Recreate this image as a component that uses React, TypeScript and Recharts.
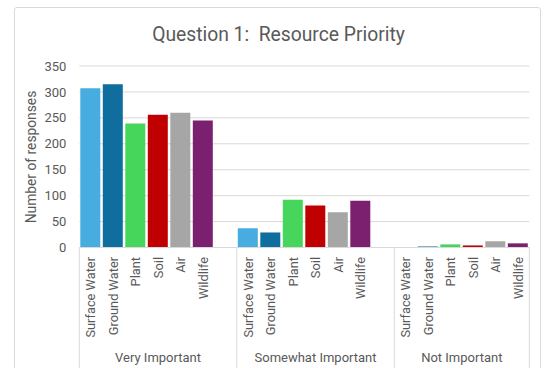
import React from "react";
import { BarChart, Bar, XAxis, YAxis, CartesianGrid, Cell } from "recharts";

// Resource categories, repeated inside each importance group
const categories = ["Surface Water", "Ground Water", "Plant", "Soil", "Air", "Wildlife"];
const groups = ["Very Important", "Somewhat Important", "Not Important"];

// Number of responses per category, one list per group
const veryImportant = [307, 315, 239, 256, 260, 245];
const somewhatImportant = [37, 29, 92, 81, 68, 90];
const notImportant = [0, 2, 6, 4, 12, 8];

const categoryColors = ["#47ADE0", "#0F6E9E", "#45D65B", "#C00000", "#A6A6A6", "#7B1F6F"];
const yTicks = [0, 50, 100, 150, 200, 250, 300, 350];

const CHART_W = 545;
const CHART_H = 368;
const MARGIN = { top: 66, right: 15.7, bottom: 0, left: 14 };
const Y_AXIS_W = 65.3;
const PLOT_BOTTOM = 247.5;
const TEXT = "#595959";
const LINE = "#D9D9D9";
const FONT = "Roboto, 'Noto Sans', sans-serif";

type Row = {
  key: string;
  label: string;
  value: number | null;
  color: string;
  group: string;
  first: boolean;
  span: number;
  last: boolean;
};

const groupValues = [veryImportant, somewhatImportant, notImportant];

// One slot per category, plus an empty slot separating consecutive groups
const rows: Row[] = [];
groups.forEach((g, gi) => {
  const hasGap = gi < groups.length - 1;
  const span = categories.length + (hasGap ? 1 : 0);
  categories.forEach((c, ci) => {
    rows.push({
      key: `${g}|${c}`,
      label: c,
      value: groupValues[gi][ci],
      color: categoryColors[ci],
      group: g,
      first: ci === 0,
      span,
      last: false,
    });
  });
  if (hasGap) {
    rows.push({ key: `${g}|gap`, label: "", value: null, color: "none", group: g, first: false, span, last: false });
  }
});
rows[rows.length - 1].last = true;

const plotWidth = CHART_W - MARGIN.left - MARGIN.right - Y_AXIS_W;
const step = plotWidth / rows.length;

// Two-level category tick: rotated resource name, plus group divider and group name
function CategoryTick(props: any) {
  const { x, y, payload } = props;
  const row = rows[payload.index];
  if (!row) return null;
  const left = x - step / 2;
  return (
    <g>
      {row.label && (
        <text
          transform={`translate(${x},${y + 9.5}) rotate(-90)`}
          textAnchor="end"
          dominantBaseline="central"
          fill={TEXT}
          fontSize={12.8}
          fontFamily={FONT}
        >
          {row.label}
        </text>
      )}
      {row.first && <line x1={left} x2={left} y1={y} y2={CHART_H} stroke={LINE} strokeWidth={1} />}
      {row.first && (
        <text
          x={left + (row.span * step) / 2}
          y={y + 114}
          textAnchor="middle"
          fill={TEXT}
          fontSize={13}
          fontFamily={FONT}
        >
          {row.group}
        </text>
      )}
      {row.last && <line x1={x + step / 2} x2={x + step / 2} y1={y} y2={CHART_H} stroke={LINE} strokeWidth={1} />}
    </g>
  );
}

export default function App() {
  return (
    <div
      style={{
        position: "fixed",
        left: 0,
        top: 0,
        width: CHART_W,
        height: CHART_H,
        overflow: "hidden",
        background: "#ffffff",
      }}
    >
      <div
        style={{
          position: "absolute",
          left: 14,
          top: 7,
          width: 527,
          height: 420,
          border: `1px solid ${LINE}`,
          borderRadius: 3,
          boxSizing: "border-box",
        }}
      />
      <div style={{ position: "absolute", left: 0, top: 0 }}>
        <BarChart width={CHART_W} height={CHART_H} data={rows} margin={MARGIN}>
          <CartesianGrid vertical={false} stroke={LINE} strokeWidth={1} />
          <XAxis
            dataKey="key"
            interval={0}
            height={CHART_H - PLOT_BOTTOM - MARGIN.bottom}
            axisLine={{ stroke: LINE, strokeWidth: 1 }}
            tickLine={false}
            tickSize={0}
            tickMargin={0}
            tick={<CategoryTick />}
          />
          <YAxis
            width={Y_AXIS_W}
            domain={[0, 350]}
            ticks={yTicks}
            interval={0}
            axisLine={false}
            tickLine={false}
            tickSize={0}
            tickMargin={13}
            tick={{ fill: TEXT, fontSize: 13, fontFamily: FONT }}
          />
          <Bar dataKey="value" barSize={20} isAnimationActive={false}>
            {rows.map((r) => (
              <Cell key={r.key} fill={r.color} />
            ))}
          </Bar>
        </BarChart>
      </div>
      <svg
        width={CHART_W}
        height={CHART_H}
        style={{ position: "absolute", left: 0, top: 0, pointerEvents: "none" }}
      >
        <text
          x={278.5}
          y={40.7}
          textAnchor="middle"
          fill={TEXT}
          fontSize={19.3}
          fontFamily={FONT}
          style={{ whiteSpace: "pre" }}
        >
          {"Question 1:  Resource Priority"}
        </text>
        <text
          transform="translate(31,157) rotate(-90)"
          textAnchor="middle"
          dominantBaseline="central"
          fill={TEXT}
          fontSize={13.8}
          fontFamily={FONT}
        >
          Number of responses
        </text>
      </svg>
    </div>
  );
}
